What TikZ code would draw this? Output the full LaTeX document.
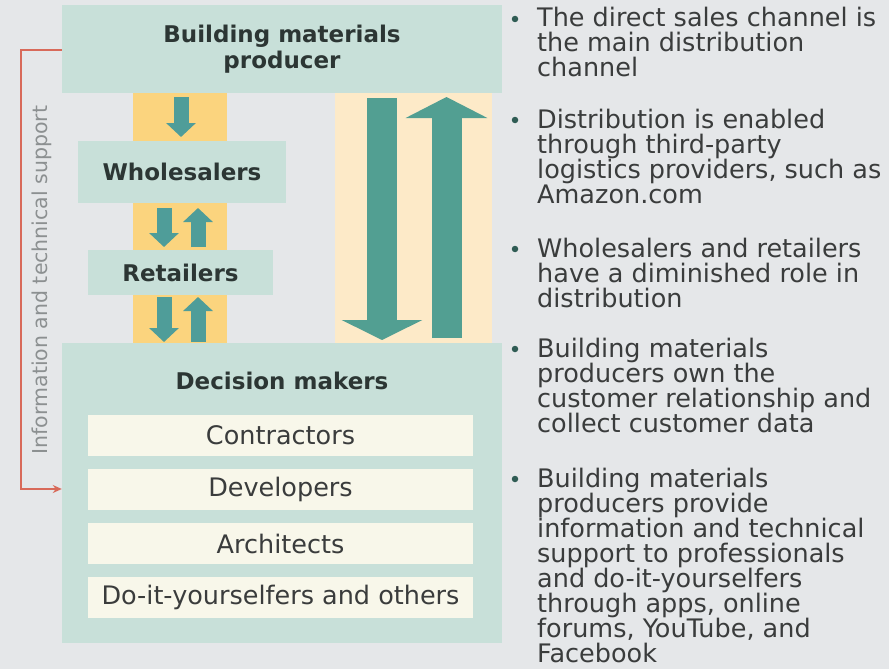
\documentclass[tikz,border=0pt]{standalone}
\usepackage{fontspec}
\setmainfont{DejaVu Sans}
\usetikzlibrary{arrows.meta}
\definecolor{bg}{HTML}{E5E7E9}
\definecolor{mint}{HTML}{C8E0D9}
\definecolor{ystrip}{HTML}{FBD47E}
\definecolor{lstrip}{HTML}{FDEAC8}
\definecolor{teal}{HTML}{529F92}
\definecolor{steal}{HTML}{4F9D99}
\definecolor{cream}{HTML}{F8F7EA}
\definecolor{redl}{HTML}{D86A5A}
\definecolor{dtext}{HTML}{2C3634}
\definecolor{btext}{HTML}{3A3C3C}
\definecolor{gtext}{HTML}{8C9091}
\definecolor{dot}{HTML}{2F5C54}
\tikzset{
  mintbox/.style={fill=mint, draw=none, inner sep=0pt, font=\fontsize{23}{26}\selectfont\bfseries, text=dtext, align=center},
  creambox/.style={fill=cream, draw=none, inner sep=0pt, minimum width=385pt, minimum height=41pt, font=\fontsize{25.5}{28}\selectfont, text=btext},
  bigarrow/.style={draw=teal, line width=30pt, -{Triangle[width=80pt,length=20pt]}},
  smarrow/.style={draw=steal, line width=15pt, -{Triangle[width=29pt,length=14pt]}},
  bullettext/.style={anchor=base west, inner sep=0pt, align=left, text=btext, font=\fontsize{25.5}{25}\selectfont},
  bulletdot/.style={circle, fill=dot, inner sep=0pt, minimum size=6.5pt},
  infoline/.style={draw=redl, line width=2pt, -{Stealth[length=9pt,width=8pt]}}
}
\begin{document}
\begin{tikzpicture}[x=1pt,y=-1pt]
\fill[bg] (0,0) rectangle (889,669);
\useasboundingbox (0,0) rectangle (889,669);
% strips
\fill[ystrip] (133,93) rectangle (227,343);
\fill[lstrip] (335,93) rectangle (492,343);
% boxes
\node[mintbox, minimum width=440pt, minimum height=88pt] (prod) at (282,49) {Building materials\\producer};
\node[mintbox, minimum width=208pt, minimum height=62pt] (whole) at (182,172) {Wholesalers};
\node[mintbox, minimum width=185pt, minimum height=45pt] (ret) at (180.5,272.5) {Retailers};
\node[mintbox, minimum width=440pt, minimum height=300pt] (dec) at (282,493) {};
\node[font=\fontsize{23}{26}\selectfont\bfseries, text=dtext] (dectitle) at (282,381) {Decision makers};
\node[creambox] (contr) at (280.5,435.5) {Contractors};
\node[creambox] (devel) at (280.5,489.5) {Developers};
\node[creambox] (arch) at (280.5,543.5) {Architects};
\node[creambox] (diy) at (280.5,597.5) {Do-it-yourselfers and others};
% small arrows
\coordinate (a1s) at (181,97);  \coordinate (a1e) at (181,137);
\coordinate (a2s) at (164,208); \coordinate (a2e) at (164,247);
\coordinate (a3s) at (198,247); \coordinate (a3e) at (198,208);
\coordinate (a4s) at (164,297); \coordinate (a4e) at (164,342);
\coordinate (a5s) at (198,342); \coordinate (a5e) at (198,297);
\draw[smarrow] (a1s) -- (a1e);
\draw[smarrow] (a2s) -- (a2e);
\draw[smarrow] (a3s) -- (a3e);
\draw[smarrow] (a4s) -- (a4e);
\draw[smarrow] (a5s) -- (a5e);
% big arrows
\coordinate (b1s) at (382,98);  \coordinate (b1e) at (382,340);
\coordinate (b2s) at (446.5,338); \coordinate (b2e) at (446.5,97);
\draw[bigarrow] (b1s) -- (b1e);
\draw[bigarrow, -{Triangle[width=81pt,length=21pt]}] (b2s) -- (b2e);
% information line
\coordinate (iltop) at (21,50);
\coordinate (ilbot) at (21,489);
\draw[infoline] (prod.west |- iltop) -- (iltop) -- (ilbot) -- (dec.west |- ilbot);
\node[rotate=90, text=gtext, font=\fontsize{20.5}{22}\selectfont] (infolabel) at (42,280) {Information and technical support};
% bullets (base anchor = baseline of last line)
\node[bulletdot] (d1) at (515,19) {};
\node[bullettext] (t1) at (537,77) {The direct sales channel is\\the main distribution\\channel};
\node[bulletdot] (d2) at (515,120) {};
\node[bullettext] (t2) at (537,203) {Distribution is enabled\\through third-party\\logistics providers, such as\\Amazon.com};
\node[bulletdot] (d3) at (515,249) {};
\node[bullettext] (t3) at (537,307) {Wholesalers and retailers\\have a diminished role in\\distribution};
\node[bulletdot] (d4) at (515,349) {};
\node[bullettext] (t4) at (537,432) {Building materials\\producers own the\\customer relationship and\\collect customer data};
\node[bulletdot] (d5) at (515,479) {};
\node[bullettext] (t5) at (537,662) {Building materials\\producers provide\\information and technical\\support to professionals\\and do-it-yourselfers\\through apps, online\\forums, YouTube, and\\Facebook};
\end{tikzpicture}
\end{document}
